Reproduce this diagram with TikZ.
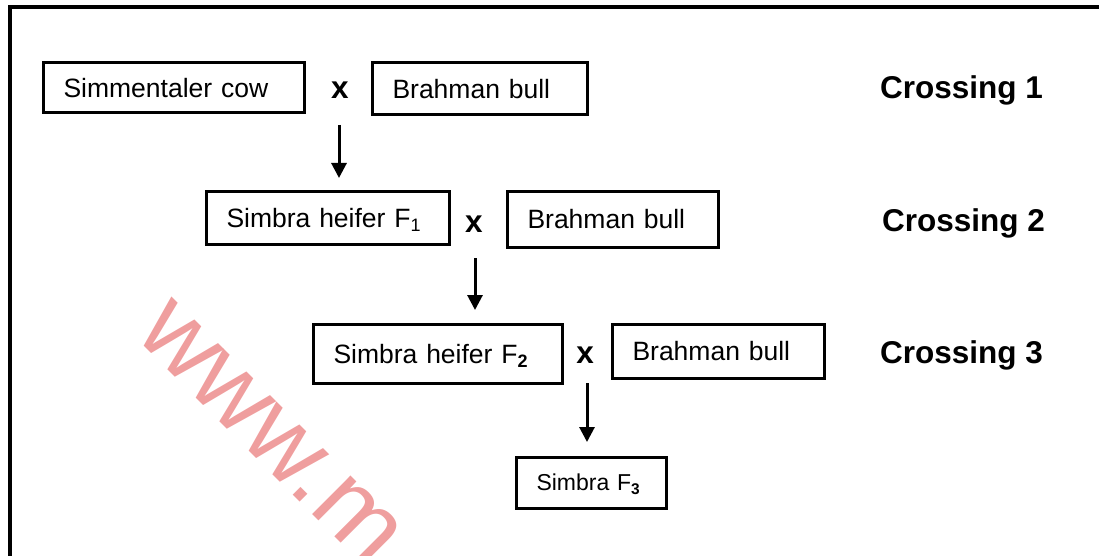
\documentclass[tikz,border=0pt]{standalone}
\usepackage{fontspec}
\setmainfont{Liberation Sans}
\usetikzlibrary{arrows.meta}
\definecolor{wm}{RGB}{239,158,158}
\newcommand{\subn}[1]{\raisebox{-4pt}{\fontsize{18}{18}\selectfont #1}}
\newcommand{\subs}[1]{\raisebox{-3.5pt}{\fontsize{15.5}{16}\selectfont #1}}
\tikzset{
  box/.style={draw, line width=3pt, rectangle, anchor=north west, inner xsep=20.5pt, inner ysep=0pt,
    align=left, font=\fontsize{26.5}{30}\selectfont, text height=19pt, text depth=0pt},
  crosslbl/.style={font=\bfseries\fontsize{31.5}{36}\selectfont, anchor=base west, inner sep=0pt},
  times/.style={font=\bfseries\fontsize{31.5}{36}\selectfont, anchor=base, inner sep=0pt},
  arr/.style={line width=3pt, -{Triangle[width=15pt,length=15pt]}},
  frame/.style={line width=3.5pt},
}
\begin{document}
\begin{tikzpicture}[x=1pt,y=-1pt]
\useasboundingbox (0,0) rectangle (1099,556);
\clip (0,0) rectangle (1099,556);
% watermark
\node[anchor=base west, inner sep=0pt, rotate=-45, text=wm, font=\fontsize{103}{110}\selectfont] (wmk) at (133,335) {www.m};
% frame
\draw[frame] (10,600) -- (10,7) -- (1120,7);
% boxes
\node[box, minimum width=261pt, minimum height=50pt, text width=220pt] (b1) at (41.5,61.5) {\mbox{Simmentaler cow}};
\node[box, minimum width=215pt, minimum height=52pt, text width=174pt] (b2) at (370.5,61.5) {\mbox{Brahman bull}};
\node[box, minimum width=243pt, minimum height=53pt, text width=202pt] (b3) at (204.5,189.5) {\mbox{Simbra heifer F\subn{1}}};
\node[box, minimum width=211pt, minimum height=56pt, text width=170pt] (b4) at (505.5,189.5) {\mbox{Brahman bull}};
\node[box, minimum width=249pt, minimum height=59pt, text width=208pt] (b5) at (311.5,322.5) {\mbox{Simbra heifer F\subn{\bfseries 2}}};
\node[box, minimum width=212pt, minimum height=54pt, text width=171pt] (b6) at (610.5,322.5) {\mbox{Brahman bull}};
\node[box, minimum width=150pt, minimum height=51pt, text width=109pt, font=\fontsize{23}{26}\selectfont, text height=16.5pt] (b7) at (514.5,455.5) {\mbox{Simbra F\subs{\bfseries 3}}};
% x marks
\node[times] (x1) at (340,99) {x};
\node[times] (x2) at (474,232) {x};
\node[times] (x3) at (585,363) {x};
% crossing labels
\node[crosslbl] (c1) at (880,99) {Crossing 1};
\node[crosslbl] (c2) at (882,231) {Crossing 2};
\node[crosslbl] (c3) at (880,363) {Crossing 3};
% arrows
\coordinate (a1s) at (339,125);
\coordinate (a1e) at (339,178);
\coordinate (a2s) at (475,258);
\coordinate (a2e) at (475,310);
\coordinate (a3s) at (587,383);
\coordinate (a3e) at (587,442);
\draw[arr] (a1s) -- (a1e);
\draw[arr] (a2s) -- (a2e);
\draw[arr] (a3s) -- (a3e);
\end{tikzpicture}
\end{document}
